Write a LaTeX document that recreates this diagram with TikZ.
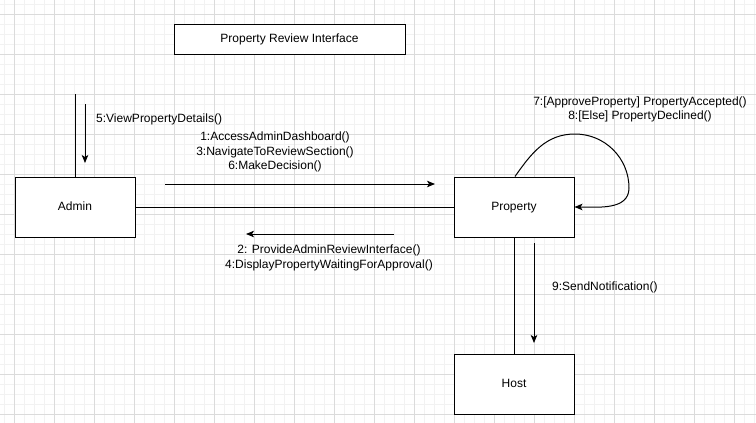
\documentclass[tikz,border=0pt]{standalone}
\usepackage{fontspec}
\setmainfont{Liberation Sans}
\usepackage{tikz}
\usetikzlibrary{positioning, arrows.meta}

\begin{document}
\begin{tikzpicture}[x=1pt, y=-1pt, >={Stealth[length=8pt, width=6.5pt, inset=2pt]},
  font=\fontsize{12}{14.5}\selectfont,
  minor line/.style={draw=black!5, line width=0.6pt},
  major line/.style={draw=black!14, line width=0.7pt},
  object/.style={draw, line width=1pt, fill=white, minimum width=120pt, minimum height=60pt, inner sep=0pt, text depth=1pt},
  title box/.style={draw, line width=1pt, fill=white, minimum width=231pt, minimum height=30pt, inner sep=0pt, text depth=1pt},
  link/.style={line width=1pt},
  message/.style={->, line width=1pt},
  message label/.style={align=center, inner sep=0pt}]

\useasboundingbox (0,0) rectangle (756,423);
\fill[white] (0,0) rectangle (756,423);

\foreach \x in {4,14,...,754}
  \draw [minor line] (\x,0) -- (\x,423);
\foreach \y in {4,14,...,414}
  \draw [minor line] (0,\y) -- (756,\y);
\foreach \x in {14,54,...,734}
  \draw [major line] (\x,0) -- (\x,423);
\foreach \y in {14,54,...,414}
  \draw [major line] (0,\y) -- (756,\y);

\node [title box] (title) at (289.5,39) {Property Review Interface};

\node [object] (admin) at (75,207) {Admin};
\node [object] (property) at (514,207) {Property};
\node [object] (host) at (514,384) {Host};

\coordinate (admin-top) at (75,94);
\draw [link] (admin-top) -- (admin.north);
\draw [link] (admin) -- (property);
\draw [link] (property) -- (host);

\coordinate (loop-top) at (575,134);
\coordinate (loop-right) at (629,188);
\draw [message] ([xshift=1pt]property.north) to[out=55,in=180] (loop-top)
  to[out=0,in=90] (loop-right) to[out=-90,in=0] (property.east);

\coordinate (msg5-start) at (85,104);
\coordinate (msg5-end) at (85,163);
\draw [message] (msg5-start) -- (msg5-end);
\node [message label, anchor=west] (msg5) at (96,119) {5:ViewPropertyDetails()};

\coordinate (msg1-start) at (165,184);
\coordinate (msg1-end) at (435,184);
\draw [message] (msg1-start) -- (msg1-end);
\node [message label] (msg1) at (275,152)
  {1:AccessAdminDashboard()\\3:NavigateToReviewSection()\\6:MakeDecision()};

\coordinate (msg2-start) at (394,234);
\coordinate (msg2-end) at (246,234);
\draw [message] (msg2-start) -- (msg2-end);
\node [message label] (msg2) at (329,258)
  {2: ProvideAdminReviewInterface()\\4:DisplayPropertyWaitingForApproval()};

\node [message label] (msg7) at (640,109.5)
  {7:[ApproveProperty] PropertyAccepted()\\8:[Else] PropertyDeclined()};

\coordinate (msg9-start) at (534,243);
\coordinate (msg9-end) at (534,343);
\draw [message] (msg9-start) -- (msg9-end);
\node [message label, anchor=west] (msg9) at (552,287) {9:SendNotification()};
\end{tikzpicture}
\end{document}
